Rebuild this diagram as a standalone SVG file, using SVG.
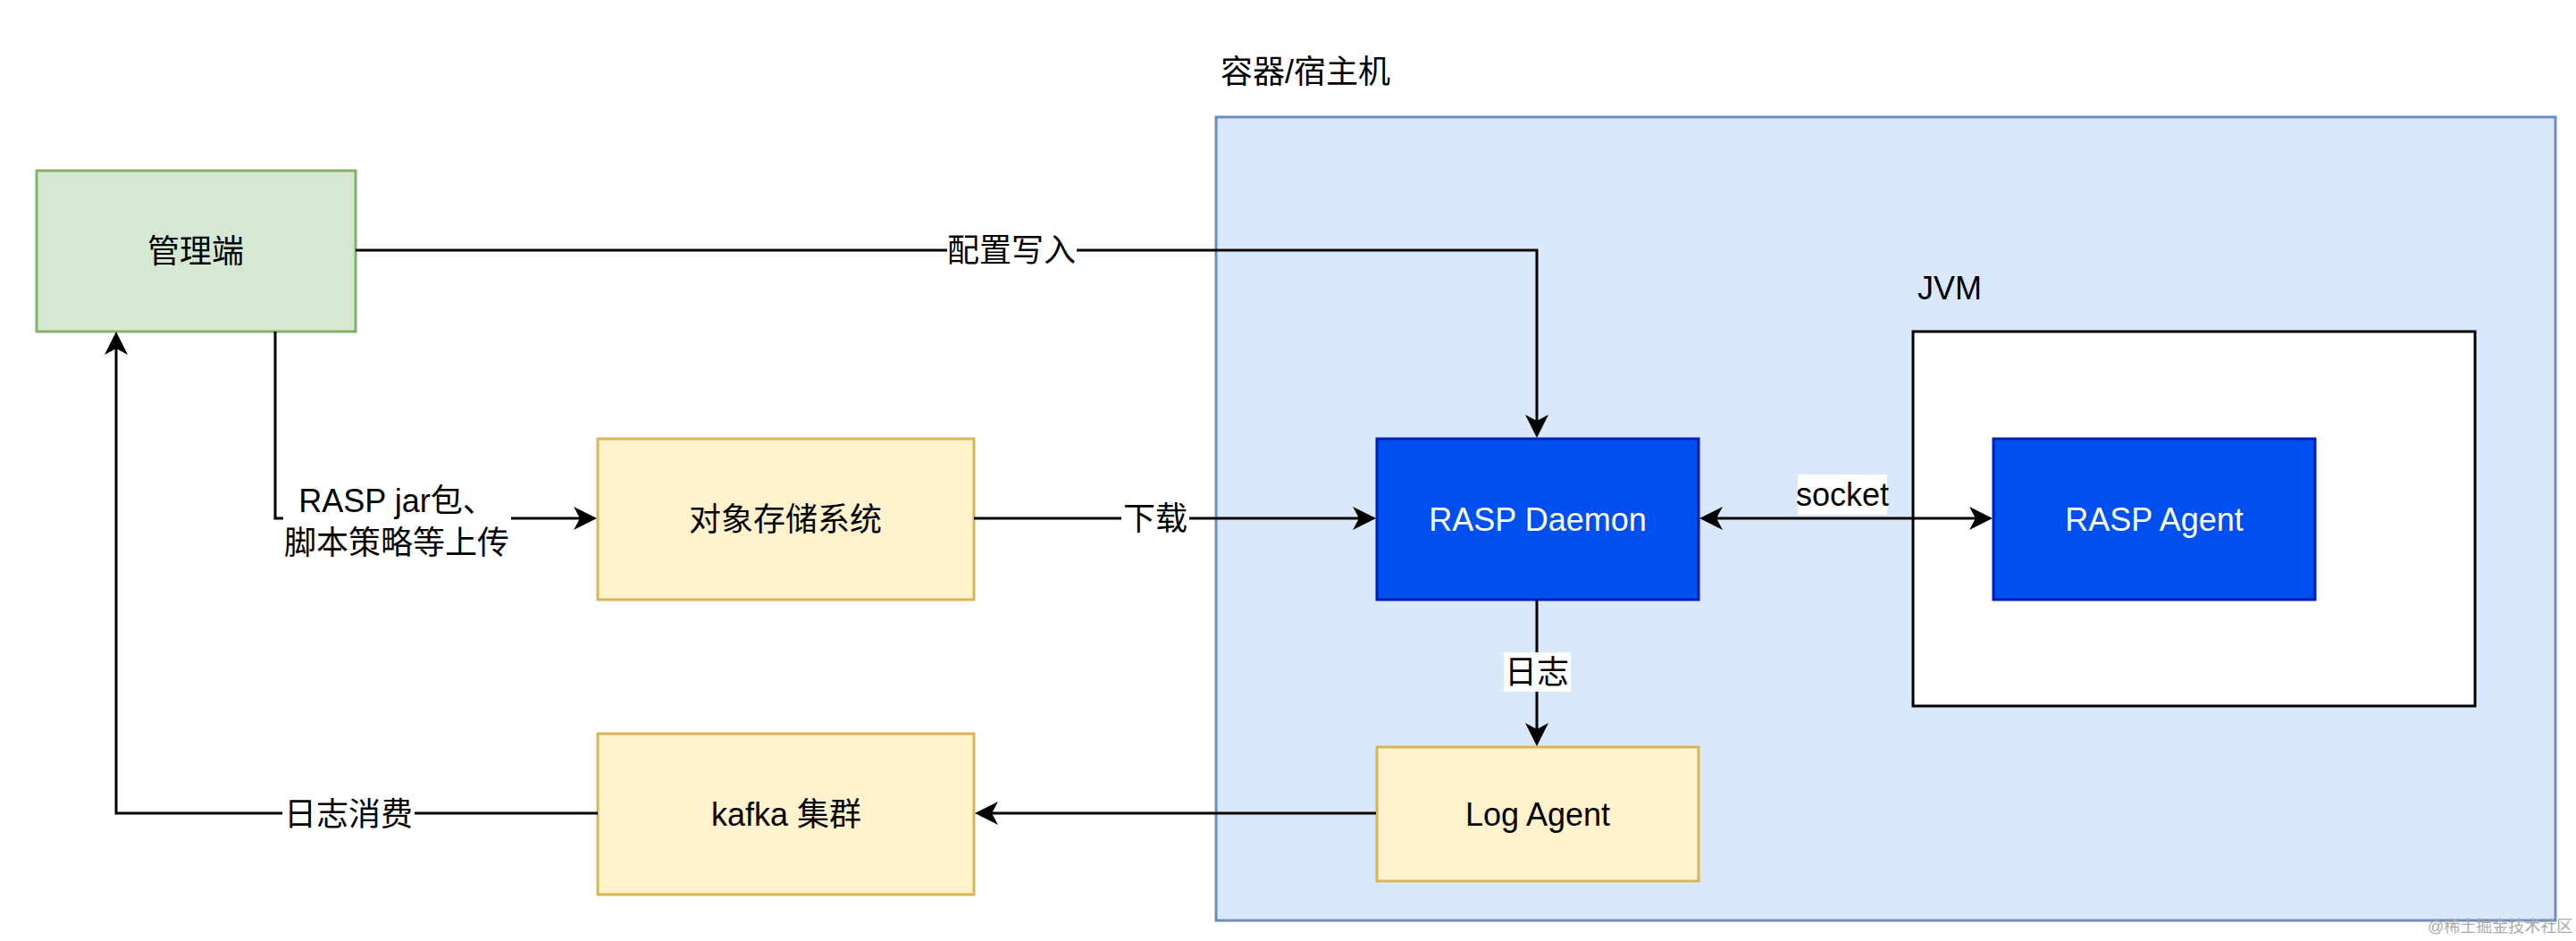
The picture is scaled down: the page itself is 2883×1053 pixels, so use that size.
<svg xmlns="http://www.w3.org/2000/svg" width="2883" height="1053" viewBox="0 0 2883 1053">
<style>
text{font-family:"Liberation Sans","Noto Sans CJK SC",sans-serif;font-size:36px;fill:#000;dominant-baseline:central}
.c{text-anchor:middle}
.w{fill:#fff}
.green{fill:#d5e8d4;stroke:#82b366;stroke-width:3}
.yellow{fill:#fff2cc;stroke:#d6b656;stroke-width:3}
.blue{fill:#0050ef;stroke:#001dbc;stroke-width:3}
.cont{fill:#dae8fc;stroke:#6c8ebf;stroke-width:3}
.jvm{fill:#fff;stroke:#000;stroke-width:3}
.edge{fill:none;stroke:#000;stroke-width:3}
.lbg{fill:#fff}
</style>
<defs>
<marker id="arr" markerUnits="userSpaceOnUse" markerWidth="28" markerHeight="28" viewBox="-8 -14 28 28" refX="0" refY="0" orient="auto-start-reverse">
<path d="M19,0 L-7,-13 L0,0 L-7,13 Z" fill="#000"/>
</marker>
</defs>
<rect width="2883" height="1053" fill="#fff"/>
<g id="container">
<rect class="cont" x="1361" y="131" width="1499" height="899"/>
<text x="1366" y="80">容器/宿主机</text>
</g>
<g id="jvm">
<rect class="jvm" x="2141" y="371" width="629" height="419"/>
<text x="2146" y="322">JVM</text>
</g>
<g id="admin">
<rect class="green" x="41" y="191" width="357" height="180"/>
<text class="c" x="219" y="281">管理端</text>
</g>
<g id="oss">
<rect class="yellow" x="669" y="491" width="421" height="180"/>
<text class="c" x="879" y="581">对象存储系统</text>
</g>
<g id="kafka">
<rect class="yellow" x="669" y="821" width="421" height="180"/>
<text class="c" x="880" y="911">kafka 集群</text>
</g>
<g id="daemon">
<rect class="blue" x="1541" y="491" width="360" height="180"/>
<text class="c w" x="1721" y="581">RASP Daemon</text>
</g>
<g id="agent">
<rect class="blue" x="2231" y="491" width="360" height="180"/>
<text class="c w" x="2411" y="581">RASP Agent</text>
</g>
<g id="logagent">
<rect class="yellow" x="1541" y="836" width="360" height="150"/>
<text class="c" x="1721" y="911">Log Agent</text>
</g>
<g id="connectors">
<path class="edge" d="M398,280 H1720 V471" marker-end="url(#arr)"/>
<path class="edge" d="M308,371 V580 H649" marker-end="url(#arr)"/>
<path class="edge" d="M1090,580 H1521" marker-end="url(#arr)"/>
<path class="edge" d="M1921,580 H2211" marker-start="url(#arr)" marker-end="url(#arr)"/>
<path class="edge" d="M1720,671 V816" marker-end="url(#arr)"/>
<path class="edge" d="M1540,910 H1110" marker-end="url(#arr)"/>
<path class="edge" d="M669,910 H130 V390" marker-end="url(#arr)"/>
<rect class="lbg" x="1060" y="258" width="145" height="44"/>
<text class="c" x="1132" y="280">配置写入</text>
<rect class="lbg" x="317" y="536" width="255" height="95"/>
<text class="c" x="444" y="560">RASP jar包、</text>
<text class="c" x="444" y="607">脚本策略等上传</text>
<rect class="lbg" x="1255" y="558" width="76" height="44"/>
<text class="c" x="1293" y="580">下载</text>
<rect class="lbg" x="2012" y="531" width="100" height="45"/>
<text class="c" x="2062" y="553">socket</text>
<rect class="lbg" x="1683" y="730" width="75" height="44"/>
<text class="c" x="1720" y="752">日志</text>
<rect class="lbg" x="316" y="889" width="148" height="44"/>
<text class="c" x="390" y="911">日志消费</text>
</g>
<text x="2717" y="1037" style="font-size:18px;fill:#aaa">@稀土掘金技术社区</text>
</svg>
